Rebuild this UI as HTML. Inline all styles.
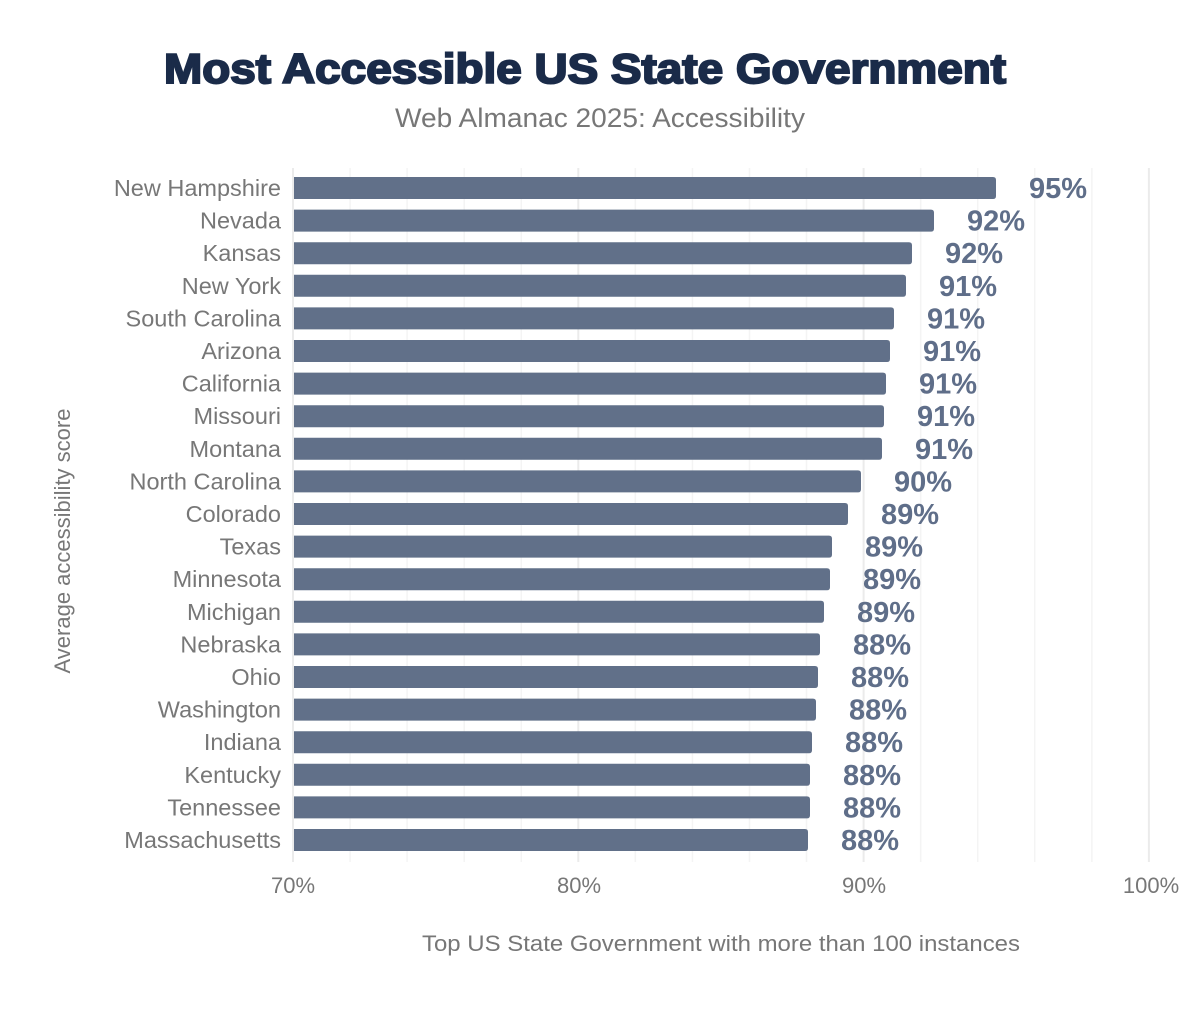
<!DOCTYPE html><html><head><style>body{margin:0;background:#fff;font-family:"Liberation Sans",sans-serif}</style></head><body>
<svg width="1200" height="1008" xmlns="http://www.w3.org/2000/svg" font-family="Liberation Sans, sans-serif">
<text x="585" y="83" text-anchor="middle" font-size="42" font-weight="900" fill="#1a2b49" stroke="#1a2b49" stroke-width="2" textLength="842" lengthAdjust="spacingAndGlyphs">Most Accessible US State Government</text>
<text x="600" y="127" text-anchor="middle" font-size="27" fill="#777" textLength="410" lengthAdjust="spacingAndGlyphs">Web Almanac 2025: Accessibility</text>
<g id="grid"></g>
<g id="bars"></g>
<text transform="translate(70,541) rotate(-90)" text-anchor="middle" font-size="22" fill="#777">Average accessibility score</text>
<g font-size="22" fill="#777" text-anchor="middle">
<text x="293" y="893">70%</text><text x="579" y="893">80%</text><text x="864" y="893">90%</text><text x="1151" y="893">100%</text>
</g>
<text x="721" y="951" text-anchor="middle" font-size="22" fill="#777" textLength="598" lengthAdjust="spacingAndGlyphs">Top US State Government with more than 100 instances</text>
<script>
var g=document.getElementById('grid'),b=document.getElementById('bars'),ns='http://www.w3.org/2000/svg';
for(var i=0;i<=15;i++){var x=293+i*2*28.53;var l=document.createElementNS(ns,'line');l.setAttribute('x1',x);l.setAttribute('x2',x);l.setAttribute('y1',168);l.setAttribute('y2',862);l.setAttribute('stroke',i%5==0?'#ebebeb':'#f4f4f4');l.setAttribute('stroke-width',i%5==0?2:1.5);g.appendChild(l);}
var d=[["New Hampshire",996,"95%"],["Nevada",934,"92%"],["Kansas",912,"92%"],["New York",906,"91%"],["South Carolina",894,"91%"],["Arizona",890,"91%"],["California",886,"91%"],["Missouri",884,"91%"],["Montana",882,"91%"],["North Carolina",861,"90%"],["Colorado",848,"89%"],["Texas",832,"89%"],["Minnesota",830,"89%"],["Michigan",824,"89%"],["Nebraska",820,"88%"],["Ohio",818,"88%"],["Washington",816,"88%"],["Indiana",812,"88%"],["Kentucky",810,"88%"],["Tennessee",810,"88%"],["Massachusetts",808,"88%"]];
d.forEach(function(r,k){var cy=188+k*32.6;
var p=document.createElementNS(ns,'path');var x0=294,x1=r[1],y0=cy-11,y1=cy+11,rr=3;
p.setAttribute('d','M'+x0+' '+y0+'H'+(x1-rr)+'Q'+x1+' '+y0+' '+x1+' '+(y0+rr)+'V'+(y1-rr)+'Q'+x1+' '+y1+' '+(x1-rr)+' '+y1+'H'+x0+'Z');p.setAttribute('fill','#617089');b.appendChild(p);
var t=document.createElementNS(ns,'text');t.setAttribute('x',281);t.setAttribute('y',cy+8);t.setAttribute('text-anchor','end');t.setAttribute('font-size','23.5');t.setAttribute('fill','#777');t.textContent=r[0];b.appendChild(t);
var v=document.createElementNS(ns,'text');v.setAttribute('x',x1+33);v.setAttribute('y',cy+10);v.setAttribute('font-size','29');v.setAttribute('font-weight','bold');v.setAttribute('fill','#5f6e89');v.textContent=r[2];b.appendChild(v);});
</script>
</svg></body></html>
